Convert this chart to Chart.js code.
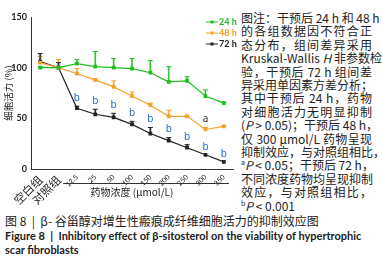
<!DOCTYPE html>
<html>
<head>
<meta charset="utf-8">
<script src="https://cdn.jsdelivr.net/npm/chart.js@4.4.1/dist/chart.umd.min.js"></script>
<style>
  body { margin: 0; width: 382px; height: 264px; background: #fff; position: relative; overflow: hidden; font-family: "Noto Sans CJK SC", sans-serif; color: #222; }
  #wrap { position: absolute; left: 0; top: 0; width: 240px; height: 205px; }
  #note { position: absolute; left: 241px; top: 11px; width: 131px; font-size: 12px; line-height: 13.4px; }
  #note div { text-align: justify; text-align-last: justify; white-space: nowrap; }
  #note div.last { text-align-last: left; }
  #cap { position: absolute; left: 5px; top: 213px; width: 376px; }
  #cap .cn { font-size: 12px; line-height: 16px; }
  #cap .en { font-family: Lato, sans-serif; font-weight: bold; font-size: 11px; line-height: 14px; white-space: nowrap; }
  sup { font-size: 7px; vertical-align: 5px; line-height: 0; }
</style>
</head>
<body>
<div id="wrap"><canvas id="chart" width="240" height="205"></canvas></div>
<div id="note">
  <div>图注：干预后 24 h 和 48 h</div>
  <div>的各组数据因不符合正</div>
  <div>态分布，组间差异采用</div>
  <div>Kruskal-Wallis <i>H</i> 非参数检</div>
  <div>验，干预后 72 h 组间差</div>
  <div>异采用单因素方差分析；</div>
  <div>其中干预后 24 h，药物</div>
  <div>对细胞活力无明显抑制</div>
  <div>(<i>P</i> &gt; 0.05)；干预后 48 h，</div>
  <div>仅 300 μmol/L 药物呈现</div>
  <div>抑制效应，与对照组相比，</div>
  <div><sup>a</sup><i>P</i> &lt; 0.05；干预后 72 h，</div>
  <div>不同浓度药物均呈现抑制</div>
  <div>效应，与对照组相比，</div>
  <div class="last"><sup>b</sup><i>P</i> &lt; 0.001</div>
</div>
<div id="cap">
  <div class="cn">图 8 &nbsp;|&nbsp; β- 谷甾醇对增生性瘢痕成纤维细胞活力的抑制效应图</div>
  <div class="en">Figure 8 &nbsp;|&nbsp; Inhibitory effect of β-sitosterol on the viability of hypertrophic<br>scar fibroblasts</div>
</div>
<script>
const categories = ['空白组', '对照组', '12.5', '25', '50', '100', '150', '200', '250', '300', '350'];
const xTitle = '药物浓度 (μmol/L)';

// 细胞活力 (%)
const v24 = [100, 100, 104, 101, 100, 99, 95, 86, 87, 72, 65];
const v48 = [105, 100, 94, 88, 81, 72, 63, 52, 52, 39, 42];
const v72 = [106, 100, 60, 54, 51, 44, 35, 28, 21, 14, 7];

// upper error bars
const e24 = [1, 1, 4, 15, 9, 10, 12, 15, 4, 6, 1];
const e48 = [6, 8, 5, 1, 6, 4, 2, 6, 1, 2, 1];
const e72 = [8, 5, 2, 5, 4, 3, 6, 3, 3, 0, 0];

// significance marks
const sig48 = ['', '', '', '', '', '', '', '', '', 'a', ''];
const sig72 = ['', '', 'b', 'b', 'b', 'b', 'b', 'b', 'b', 'b', 'b'];

const seriesLabels = ['24 h', '48 h', '72 h'];
const colors = ['#1fbf1f', '#f7a128', '#222222'];
const barColors = ['#8fe08f', '#fcc87c', '#777777'];
const errors = [e24, e48, e72];
const sigs = [null, sig48, sig72];
const sigColors = [null, '#333333', '#2467c8'];

const extras = {
  id: 'extras',
  beforeDatasetsDraw(chart) {
    const c = chart.ctx;
    const xs = chart.scales.x, ys = chart.scales.y;
    // error bars
    chart.data.datasets.forEach((ds, i) => {
      ds.data.forEach((v, j) => {
        const err = errors[i][j];
        if (!err) return;
        const x = xs.getPixelForValue(j);
        const y0 = ys.getPixelForValue(v);
        const y1 = ys.getPixelForValue(v + err);
        c.save();
        c.strokeStyle = barColors[i];
        c.lineWidth = 2;
        c.beginPath(); c.moveTo(x, y0); c.lineTo(x, y1); c.stroke();
        c.strokeStyle = colors[i];
        c.lineWidth = 1;
        c.beginPath(); c.moveTo(x, y0); c.lineTo(x, y1);
        c.moveTo(x - 2.5, y1); c.lineTo(x + 2.5, y1); c.stroke();
        c.restore();
      });
    });
  },
  afterDraw(chart) {
    const c = chart.ctx;
    const xs = chart.scales.x, ys = chart.scales.y;
    c.save();
    // y tick labels
    c.fillStyle = '#222';
    c.font = 'bold 9px Lato, sans-serif';
    c.textAlign = 'right';
    c.textBaseline = 'middle';
    ys.ticks.forEach(t => {
      c.fillText(String(t.value), ys.right - 4, ys.getPixelForValue(t.value));
    });
    // significance letters
    c.font = '10px "Noto Sans", sans-serif';
    c.textAlign = 'center';
    c.textBaseline = 'bottom';
    chart.data.datasets.forEach((ds, i) => {
      if (!sigs[i]) return;
      c.fillStyle = sigColors[i];
      ds.data.forEach((v, j) => {
        if (!sigs[i][j]) return;
        const x = xs.getPixelForValue(j);
        const y = ys.getPixelForValue(v + errors[i][j]) - 3;
        c.fillText(sigs[i][j], x, y);
      });
    });
    // bracket line under the concentration labels, and the axis title
    const step = xs.getPixelForValue(1) - xs.getPixelForValue(0);
    c.strokeStyle = '#333';
    c.lineWidth = 1;
    c.beginPath();
    c.moveTo(xs.getPixelForValue(2) - step * 0.75, xs.top + 14.5);
    c.lineTo(xs.right - 4, xs.top + 14.5);
    c.stroke();
    c.fillStyle = '#222';
    c.font = '10px "Noto Sans CJK SC"';
    c.textBaseline = 'middle';
    c.fillText(xTitle, (xs.left + xs.right) / 2, xs.top + 23);
    // legend
    c.font = 'bold 9px Lato, sans-serif';
    c.textAlign = 'left';
    seriesLabels.forEach((lab, i) => {
      const y = 22 + i * 11;
      c.strokeStyle = colors[i];
      c.lineWidth = 1;
      c.beginPath(); c.moveTo(206, y); c.lineTo(218, y); c.stroke();
      c.fillStyle = colors[i];
      c.fillRect(210.5, y - 1.5, 3, 3);
      c.fillText(lab, 219, y + 0.5);
    });
    c.restore();
  }
};

new Chart(document.getElementById('chart'), {
  type: 'line',
  data: {
    labels: categories,
    datasets: [v24, v48, v72].map((d, i) => ({
      label: seriesLabels[i],
      data: d,
      borderColor: colors[i],
      backgroundColor: colors[i],
      borderWidth: 1.2,
      pointStyle: 'rect',
      pointRadius: 1.8,
      pointHoverRadius: 1.8,
      tension: 0
    }))
  },
  options: {
    responsive: false,
    animation: false,
    events: [],
    layout: { padding: { left: 3, top: 17, right: 7, bottom: 0 } },
    plugins: { legend: { display: false }, tooltip: { enabled: false } },
    scales: {
      x: {
        offset: true,
        grid: { display: false, drawTicks: true, tickLength: 3, color: '#333' },
        border: { color: '#333', width: 1 },
        ticks: {
          color: '#222',
          minRotation: 45,
          maxRotation: 45,
          padding: 1,
          autoSkip: false,
          font: (ctx) => ctx.index < 2
            ? { size: 11.5, family: '"Noto Sans CJK SC"' }
            : { size: 7, family: 'Lato' }
        },
        afterFit: (s) => { s.height = 36; }
      },
      y: {
        min: 0,
        max: 150,
        grid: { display: false, drawTicks: true, tickLength: 3, color: '#333' },
        border: { color: '#333', width: 1 },
        ticks: {
          stepSize: 50,
          color: 'rgba(0,0,0,0)',
          padding: 1,
          font: { size: 9, family: 'Lato', weight: 'bold' }
        },
        title: {
          display: true,
          text: '细胞活力 (%)',
          color: '#222',
          font: { size: 9.5, family: '"Noto Sans CJK SC"' },
          padding: { top: 0, bottom: 0 }
        },
        afterFit: (s) => { s.width = 28; }
      }
    }
  },
  plugins: [extras]
});
</script>
</body>
</html>
